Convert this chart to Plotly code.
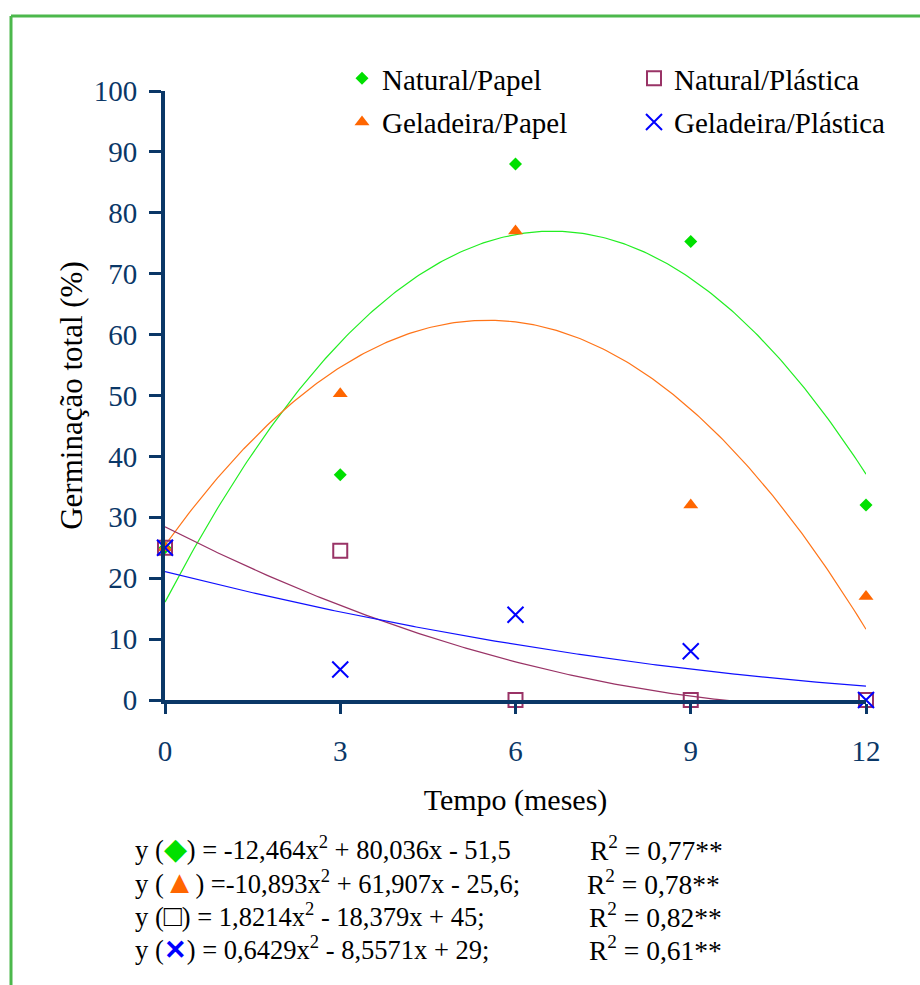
import numpy as np
import plotly.graph_objects as go

# ---------------- data ----------------
tempo = [0, 3, 6, 9, 12]
natural_papel = [25, 37, 88, 75.3, 32]
geladeira_papel = [25, 50.3, 77, 32, 17]
natural_plastica = [25, 24.5, 0, 0, 0]
geladeira_plastica = [25, 5, 14, 8, 0]

# quadratic trend coefficients (a, b, c) printed on the chart, x = period index 1..5
coef_natural_papel = [-12.464, 80.036, -51.5]
coef_geladeira_papel = [-10.893, 61.907, -25.6]
coef_natural_plastica = [1.8214, -18.379, 45]
coef_geladeira_plastica = [0.6429, -8.5571, 29]

x_ticks = [0, 3, 6, 9, 12]
y_ticks = [0, 10, 20, 30, 40, 50, 60, 70, 80, 90, 100]

# ---------------- layout helpers ----------------
W, H = 920, 985
L, R, T, B = 165, 866, 91, 700
def xp(px):
    return (px - L) / (R - L)
def yp(py):
    return (B - py) / (B - T)

NAVY = "#0a3767"
SERIF = "Liberation Serif"

t_fine = np.linspace(0, 12, 241)
def trend(coef):
    x = t_fine / 3 + 1
    return coef[0] * x ** 2 + coef[1] * x + coef[2]

fig = go.Figure()

# trend lines
for coef, col in [(coef_natural_papel, "#22ee22"),
                  (coef_geladeira_papel, "#ff7418"),
                  (coef_natural_plastica, "#993366"),
                  (coef_geladeira_plastica, "#1010ff")]:
    fig.add_trace(go.Scatter(x=t_fine, y=trend(coef), mode="lines",
                             line=dict(color=col, width=1.2),
                             showlegend=False, hoverinfo="skip"))

# points
fig.add_trace(go.Scatter(x=tempo, y=natural_papel, mode="markers", name="Natural/Papel",
                         marker=dict(symbol="diamond", size=10, color="#00e000"),
                         legend="legend", legendgroup="a", cliponaxis=False))
fig.add_trace(go.Scatter(x=tempo, y=geladeira_papel, mode="markers", name="Geladeira/Papel",
                         marker=dict(symbol="triangle-up", size=13, color="#ff6600"),
                         legend="legend", legendgroup="b", cliponaxis=False))
fig.add_trace(go.Scatter(x=tempo, y=natural_plastica, mode="markers", name="Natural/Plástica",
                         marker=dict(symbol="square-open", size=14, color="#993366",
                                     line=dict(width=2)),
                         legend="legend2", legendgroup="c", cliponaxis=False))
fig.add_trace(go.Scatter(x=tempo, y=geladeira_plastica, mode="markers", name="Geladeira/Plástica",
                         marker=dict(symbol="x-thin-open", size=16, color="#0000ff",
                                     line=dict(width=2, color="#0000ff")),
                         legend="legend2", legendgroup="d", cliponaxis=False))

legend_common = dict(orientation="v", xanchor="left", yanchor="top",
                     bgcolor="rgba(0,0,0,0)", tracegroupgap=3,
                     font=dict(family=SERIF, size=29, color="black"))

fig.update_layout(
    width=W, height=H,
    margin=dict(l=L, r=W - R, t=T, b=H - B),
    paper_bgcolor="white", plot_bgcolor="white",
    font=dict(family=SERIF),
    legend=dict(x=xp(342), y=yp(53), **legend_common),
    legend2=dict(x=xp(634), y=yp(53), **legend_common),
    xaxis=dict(range=[0, 12], tickvals=x_ticks, ticktext=[str(v) for v in x_ticks],
               showline=True, linewidth=4, linecolor=NAVY,
               ticks="outside", ticklen=10, tickwidth=3, tickcolor=NAVY,
               ticklabelstandoff=12, showgrid=False, zeroline=False,
               tickfont=dict(family=SERIF, size=29, color=NAVY),
               title=dict(text="Tempo (meses)", standoff=24,
                          font=dict(family=SERIF, size=30, color="black"))),
    yaxis=dict(range=[0, 100], tickvals=y_ticks, ticktext=[str(v) for v in y_ticks],
               showline=True, linewidth=4, linecolor=NAVY,
               ticks="outside", ticklen=12, tickwidth=3, tickcolor=NAVY,
               ticklabelstandoff=6, showgrid=False, zeroline=False,
               tickfont=dict(family=SERIF, size=29, color=NAVY),
               title=dict(text="Germinação total (%)", standoff=3,
                          font=dict(family=SERIF, size=31, color="black"))),
)

# equations below the chart
eq_left = [
    "y (<span style='color:#00e000;font-size:30px'>◆</span>) = -12,464x<sup>2</sup> + 80,036x - 51,5",
    "y (<span style='color:#ff6600;font-size:32px'>▲</span>) =-10,893x<sup>2</sup> + 61,907x - 25,6;",
    "y (<span style='font-size:30px'>□</span>) = 1,8214x<sup>2</sup> - 18,379x + 45;",
    "y (<span style='color:#0000ff'><b>✕</b></span>) = 0,6429x<sup>2</sup> - 8,5571x + 29;",
]
eq_r2 = ["R<sup>2</sup> = 0,77**", "R<sup>2</sup> = 0,78**",
         "R<sup>2</sup> = 0,82**", "R<sup>2</sup> = 0,61**"]
rows_y = [848, 882, 915, 948]
r2_x = [588, 585, 587, 587]
for txt, r2, ry, rx in zip(eq_left, eq_r2, rows_y, r2_x):
    fig.add_annotation(text=txt, xref="paper", yref="paper", x=xp(133), y=yp(ry),
                       xanchor="left", yanchor="middle", showarrow=False,
                       font=dict(family=SERIF, size=26.5, color="black"))
    fig.add_annotation(text=r2, xref="paper", yref="paper", x=xp(rx), y=yp(ry),
                       xanchor="left", yanchor="middle", showarrow=False,
                       font=dict(family=SERIF, size=27.5, color="black"))

# green frame (left and top edges visible)
BORDER = "#4cb84c"
fig.add_shape(type="line", xref="paper", yref="paper", x0=xp(11), x1=xp(930),
              y0=yp(16), y1=yp(16), line=dict(color=BORDER, width=3))
fig.add_shape(type="line", xref="paper", yref="paper", x0=xp(11), x1=xp(11),
              y0=yp(16), y1=yp(995), line=dict(color=BORDER, width=3))

fig.write_html("out.html")
